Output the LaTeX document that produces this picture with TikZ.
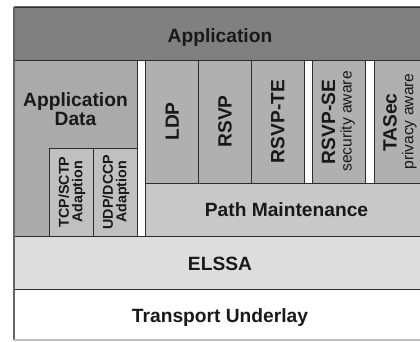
\documentclass[tikz,border=0pt]{standalone}
\usepackage{fontspec}
\setmainfont{Liberation Sans}
\definecolor{cApp}{RGB}{128,128,128}
\definecolor{cData}{RGB}{170,170,170}
\definecolor{cCol}{RGB}{176,176,176}
\definecolor{cAdapt}{RGB}{192,192,192}
\definecolor{cPath}{RGB}{200,200,200}
\definecolor{cElssa}{RGB}{221,221,221}
\definecolor{cLine}{RGB}{45,45,45}
\definecolor{cText}{RGB}{25,25,25}
\definecolor{cEdge}{RGB}{100,100,100}
\definecolor{cBottom}{RGB}{190,190,190}
\tikzset{
  layer/.style={draw=cLine, line width=0.8pt, rectangle, inner sep=0pt, outer sep=0pt},
  biglabel/.style={font=\fontsize{19.2}{18.3}\selectfont\bfseries, text=cText, inner sep=0pt, anchor=base},
  collabel/.style={biglabel, rotate=90},
  sublabel/.style={font=\fontsize{15.6}{16}\selectfont, text=cText, inner sep=0pt, anchor=base, rotate=90},
  adaptlabel/.style={font=\fontsize{14.3}{13.4}\selectfont\bfseries, text=cText, inner sep=0pt, align=center, rotate=90},
}
\begin{document}
\begin{tikzpicture}[x=1pt,y=-1pt]
\useasboundingbox (0,0) rectangle (420,342);
\clip (0,0) rectangle (420,342);
% boxes
\node[layer, fill=cApp, minimum width=412pt, minimum height=53pt] (app) at (220,33.5) {};
\node[layer, fill=cData, minimum width=123pt, minimum height=176pt] (appdata) at (75.5,148) {};
\node[layer, fill=cAdapt, minimum width=44pt, minimum height=88pt] (tcp) at (71,192) {};
\node[layer, fill=cAdapt, minimum width=44pt, minimum height=88pt] (udp) at (115,192) {};
\node[layer, fill=cCol, minimum width=52.6pt, minimum height=123pt] (ldp) at (172,121.5) {};
\node[layer, fill=cCol, minimum width=52.7pt, minimum height=123pt] (rsvp) at (224.65,121.5) {};
\node[layer, fill=cCol, minimum width=53pt, minimum height=123pt] (rsvpte) at (277.5,121.5) {};
\node[layer, fill=cCol, minimum width=53pt, minimum height=123pt] (rsvpse) at (339.2,121.5) {};
\node[layer, fill=cCol, minimum width=53pt, minimum height=123pt] (tasec) at (400.5,121.5) {};
\node[layer, fill=cPath, minimum width=280.3pt, minimum height=53pt] (path) at (285.85,209.5) {};
\node[layer, fill=cElssa, minimum width=412pt, minimum height=53pt] (elssa) at (220,262.5) {};
\node[layer, fill=white, minimum width=412pt, minimum height=51pt] (transport) at (220,314.5) {};
% outer edges
\draw[cEdge, line width=1.8pt] (app.north west) -- (transport.south west);
\draw[cApp!85!black, line width=1pt] (app.north west) -- (app.north east);
\draw[cBottom, line width=1.2pt] (transport.south west) -- (transport.south east);
% labels
\node[biglabel] (appT) at (220,42.7) {Application};
\node[biglabel, anchor=center, align=center] (appdataT) at (75.5,109) {Application\\Data};
\node[adaptlabel] (tcpT) at (72,192) {TCP/SCTP\\Adaption};
\node[adaptlabel] (udpT) at (116,192) {UDP/DCCP\\Adaption};
\node[collabel] (ldpT) at (178.8,121.5) {LDP};
\node[collabel] (rsvpT) at (231.5,121.5) {RSVP};
\node[collabel] (rsvpteT) at (284.3,121.5) {RSVP-TE};
\node[collabel] (rsvpseT) at (335,122) {RSVP-SE};
\node[sublabel] (rsvpseS) at (351.7,121.5) {security aware};
\node[collabel] (tasecT) at (396.7,122.5) {TASec};
\node[sublabel] (tasecS) at (413.4,121.5) {privacy aware};
\node[biglabel] (pathT) at (286.5,216.7) {Path Maintenance};
\node[biglabel] (elssaT) at (220,270) {ELSSA};
\node[biglabel] (transportT) at (220,322.7) {Transport Underlay};
\end{tikzpicture}
\end{document}
